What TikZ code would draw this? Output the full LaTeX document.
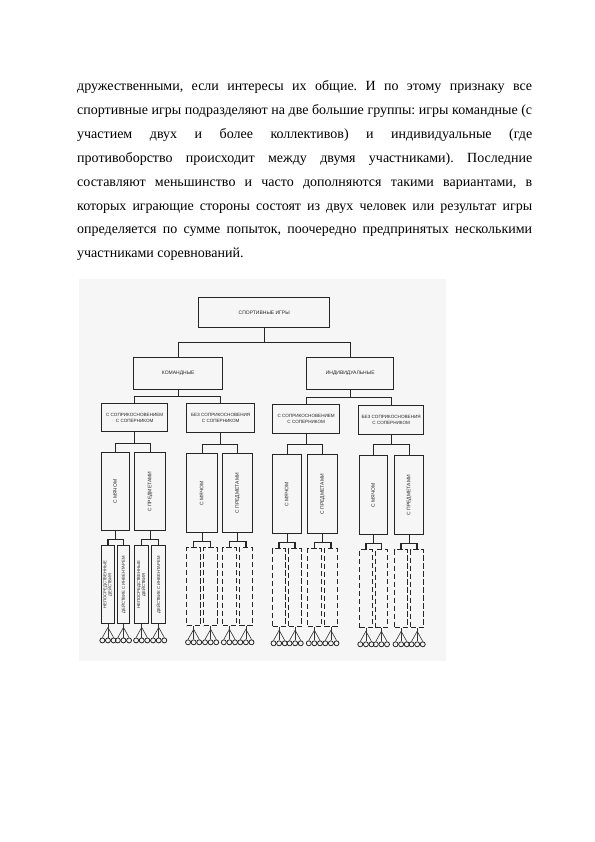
\documentclass[tikz,border=0pt]{standalone}
\usepackage{fontspec}
\setmainfont{Liberation Serif}
\newfontfamily\dgfont{Liberation Sans}
\usepackage{graphicx}
\frenchspacing
\renewcommand\arraystretch{0.75}
\newcommand\rtext[1]{\rotatebox{90}{\begin{tabular}{@{}c@{}}#1\end{tabular}}}
\tikzset{
 bx/.style={draw=black!85, line width=1.4bp, inner sep=0pt, align=center, text=black!85,
   font=\dgfont\fontsize{5bp}{5.8bp}\selectfont},
 bx2/.style={bx, font=\dgfont\fontsize{4.6bp}{5.6bp}\selectfont},
 sbx/.style={bx, font=\dgfont\fontsize{4.2bp}{4.6bp}\selectfont},
 dbx/.style={draw=black!85, line width=1.3bp, dash pattern=on 5.5bp off 2.5bp, inner sep=0pt},
 conn/.style={draw=black!85, line width=1.4bp},
 fan/.style={draw=black!80, line width=0.6bp},
 circ/.style={circle, draw=black!85, line width=0.8bp, minimum size=5bp, inner sep=0pt},
 txt/.style={anchor=base west, inner sep=0pt, font=\fontsize{14bp}{16bp}\selectfont}
}
% level-3 box with its two sub-boxes and their fans of circles
\newcommand\Lthree[9]{%
  \node[bx, minimum width=#4bp, minimum height=#5bp, anchor=north west] (#1) at (#2,#3) {\rtext{#6}};
  \pgfmathsetmacro\subw{(#4-3)/2}%
  \pgfmathsetmacro\subx{#2+\subw+3}%
  \pgfmathsetmacro\suby{#3+#5+15}%
  \node[#7, minimum width=\subw bp, minimum height=78bp, anchor=north west] (#1-1) at (#2,\suby) {\rtext{#8}};
  \node[#7, minimum width=\subw bp, minimum height=78bp, anchor=north west] (#1-2) at (\subx,\suby) {\rtext{#9}};
  \draw[conn] (#1.south) -- ++(0,8) -| (#1-1.north);
  \draw[conn] (#1.south) -- ++(0,8) -| (#1-2.north);
  \foreach \s in {1,2}{
    \coordinate (#1-\s-ap) at ([yshift=-3bp]#1-\s.south);
    \draw[fan] (#1-\s.south) -- (#1-\s-ap);
    \foreach \k/\dx in {1/-5.6,2/0,3/5.6}{
      \node[circ] (#1-\s-c\k) at ([xshift=\dx bp,yshift=-16bp]#1-\s.south) {};
      \draw[fan] (#1-\s-ap) -- (#1-\s-c\k.north);
    }
  }%
}
\begin{document}
\begin{tikzpicture}[x=1bp,y=-1bp]
\useasboundingbox (0,0) rectangle (595,842);
\fill[white] (0,0) rectangle (595,842);

% paragraph
\node[txt] (l1) at (77,90.5) {\makebox[455bp][s]{дружественными, если интересы их общие. И по этому признаку все}};
\node[txt] (l2) at (77,114.4) {\makebox[455bp][s]{спортивные игры подразделяют на две большие группы: игры командные (с}};
\node[txt] (l3) at (77,138.3) {\makebox[455bp][s]{участием двух и более коллективов) и индивидуальные (где}};
\node[txt] (l4) at (77,162.2) {\makebox[455bp][s]{противоборство происходит между двумя участниками). Последние}};
\node[txt] (l5) at (77,186.1) {\makebox[455bp][s]{составляют меньшинство и часто дополняются такими вариантами, в}};
\node[txt] (l6) at (77,210.0) {\makebox[455bp][s]{которых играющие стороны состоят из двух человек или результат игры}};
\node[txt] (l7) at (77,233.9) {\makebox[455bp][s]{определяется по сумме попыток, поочередно предпринятых несколькими}};
\node[txt] (l8) at (77,257.8) {участниками соревнований.};

% scanned figure background
\fill[gray!7] (79,279) rectangle (446,661);

% level 0
\node[bx, minimum width=131bp, minimum height=30bp, anchor=north west] (top) at (198,297) {СПОРТИВНЫЕ ИГРЫ};
% level 1
\node[bx, minimum width=89bp, minimum height=32bp, anchor=north west] (K) at (133,357) {КОМАНДНЫЕ};
\node[bx, minimum width=87bp, minimum height=32bp, anchor=north west] (I) at (306,357) {ИНДИВИДУАЛЬНЫЕ};
\draw[conn] (top.south) -- ++(0,14) -| (K.north);
\draw[conn] (top.south) -- ++(0,14) -| (I.north);
% level 2
\node[bx2, minimum width=66bp, minimum height=28bp, anchor=north west] (K1) at (101,403) {С СОПРИКОСНОВЕНИЕМ\\С СОПЕРНИКОМ};
\node[bx2, minimum width=68bp, minimum height=29bp, anchor=north west] (K2) at (186,403) {БЕЗ СОПРИКОСНОВЕНИЯ\\С СОПЕРНИКОМ};
\node[bx2, minimum width=67bp, minimum height=29bp, anchor=north west] (I1) at (272,404) {С СОПРИКОСНОВЕНИЕМ\\С СОПЕРНИКОМ};
\node[bx2, minimum width=65bp, minimum height=29bp, anchor=north west] (I2) at (358,405) {БЕЗ СОПРИКОСНОВЕНИЯ\\С СОПЕРНИКОМ};
\draw[conn] (K.south) -- ++(0,6) -| (K1.north);
\draw[conn] (K.south) -- ++(0,6) -| (K2.north);
\draw[conn] (I.south) -- ++(0,7) -| (I1.north);
\draw[conn] (I.south) -- ++(0,7) -| (I2.north);
% level 3 and below
\Lthree{K1a}{101}{452}{28}{78}{С МЯЧОМ}{sbx}{НЕПОСРЕДСТВЕННЫЕ\\ДЕЙСТВИЯ}{ДЕЙСТВИЕ С ИНВЕНТАРЕМ}
\Lthree{K1b}{134}{452}{31}{78}{С ПРЕДМЕТАМИ}{sbx}{НЕПОСРЕДСТВЕННЫЕ\\ДЕЙСТВИЯ}{ДЕЙСТВИЕ С ИНВЕНТАРЕМ}
\Lthree{K2a}{186}{453}{31}{79}{С МЯЧОМ}{dbx}{}{}
\Lthree{K2b}{222}{453}{30}{79}{С ПРЕДМЕТАМИ}{dbx}{}{}
\Lthree{I1a}{272}{454}{29}{79}{С МЯЧОМ}{dbx}{}{}
\Lthree{I1b}{307}{454}{30}{79}{С ПРЕДМЕТАМИ}{dbx}{}{}
\Lthree{I2a}{359}{455}{28}{79}{С МЯЧОМ}{dbx}{}{}
\Lthree{I2b}{394}{455}{29}{79}{С ПРЕДМЕТАМИ}{dbx}{}{}
\draw[conn] (K1.south) -- ++(0,11) -| (K1a.north);
\draw[conn] (K1.south) -- ++(0,11) -| (K1b.north);
\draw[conn] (K2.south) -- ++(0,11) -| (K2a.north);
\draw[conn] (K2.south) -- ++(0,11) -| (K2b.north);
\draw[conn] (I1.south) -- ++(0,10) -| (I1a.north);
\draw[conn] (I1.south) -- ++(0,10) -| (I1b.north);
\draw[conn] (I2.south) -- ++(0,9) -| (I2a.north);
\draw[conn] (I2.south) -- ++(0,9) -| (I2b.north);
\end{tikzpicture}
\end{document}
